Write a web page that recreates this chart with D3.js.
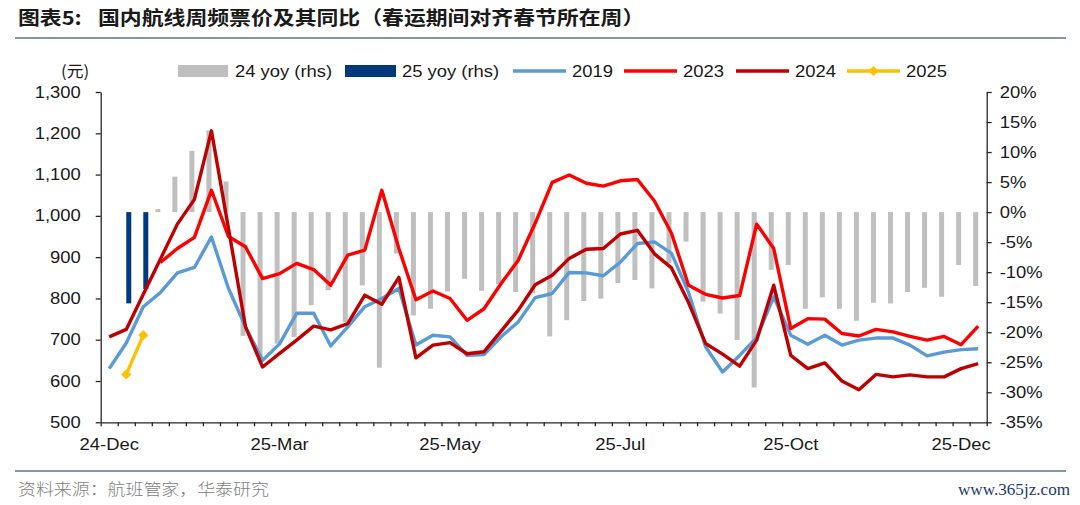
<!DOCTYPE html>
<html>
<head>
<meta charset="utf-8">
<script src="https://cdn.jsdelivr.net/npm/d3@7"></script>
<style>
  html, body { margin: 0; padding: 0; background: #fff; }
  svg { display: block; }
</style>
</head>
<body>
<svg id="chart" width="1080" height="505"></svg>
<script>
"use strict";

// ── data ──────────────────────────────────────────────────────────────────────
const weekIdx = d3.range(52);
const xTickLabels = [[0, "24-Dec"], [10, "25-Mar"], [20, "25-May"], [30, "25-Jul"], [40, "25-Oct"], [50, "25-Dec"]];
const leftTicks  = [500, 600, 700, 800, 900, 1000, 1100, 1200, 1300];
const rightTicks = [-35, -30, -25, -20, -15, -10, -5, 0, 5, 10, 15, 20];

const fare2019 = [630, 692, 780, 814, 862, 875, 949, 824, 731, 650,
                  690, 764, 764, 685, 731, 780, 800, 824, 687, 711,
                  707, 662, 664, 707, 743, 802, 812, 863, 862, 855,
                  888, 933, 937, 909, 815, 683, 622, 662, 705, 804,
                  711, 689, 711, 687, 699, 704, 704, 687, 661, 670,
                  676, 678];
const fare2023 = [null, null, null, 887, 921, 948, 1062, 950, 925, 848,
                  860, 885, 870, 832, 905, 917, 1062, 921, 797, 818,
                  800, 747, 775, 836, 892, 982, 1081, 1099, 1079, 1072,
                  1085, 1088, 1036, 958, 832, 810, 801, 807, 980, 921,
                  727, 751, 750, 715, 709, 725, 719, 708, 699, 708,
                  688, 733];
const fare2024 = [707, 725, 810, 895, 980, 1040, 1206, 969, 731, 634,
                  667, 699, 733, 724, 739, 808, 786, 851, 656, 687,
                  693, 666, 671, 721, 771, 833, 856, 897, 919, 921,
                  956, 965, 908, 874, 790, 691, 665, 636, 699, 832,
                  662, 630, 644, 600, 579, 616, 610, 615, 610, 610,
                  630, 642];
const fare2025 = [null, 616, 711];

const yoy24 = [null, null, null, 0.5, 5.9, 10.2, 13.6, 5.1, -20.6, -24.7,
               -21.9, -20.8, -15.5, -13, -18.3, -12.2, -25.9, -6.9, -17.2, -16.1,
               -13.2, -11.1, -13.1, -12, -13.3, -13.5, -20.7, -18, -14.8, -14.4,
               -11.8, -11.3, -12.7, -8.5, -4.9, -14.9, -16.9, -21.3, -29.2, -9.6,
               -8.8, -16.1, -14.2, -16.1, -18.1, -15.1, -15.2, -13.3, -12.6, -14.1,
               -8.8, -12.3];
const yoy25 = [null, -15.2, -12.8];

// ── layout ────────────────────────────────────────────────────────────────────
const plot = { left: 100.7, right: 986.7, top: 92, bottom: 422.3 };
const FONT = "'Liberation Sans', Arial, sans-serif";
const CJK  = "'Noto Sans CJK SC', 'Noto Sans', sans-serif";
const AXIS = "#262626";
const STRETCH = 1.15;   // reference text is a bit wide

const C = {
  bar24: "#bfbfbf", bar25: "#003a7d",
  y2019: "#5b9bd5", y2023: "#ff0000", y2024: "#c00000", y2025: "#ffc000",
  rule: "#8497b0",
};

const svg = d3.select("#chart");

function stretch(sel, k) {
  sel.each(function () {
    const w = this.getComputedTextLength();
    this.setAttribute("textLength", w * k);
    this.setAttribute("lengthAdjust", "spacingAndGlyphs");
  });
}

// ── scales ────────────────────────────────────────────────────────────────────
const x = d3.scaleBand().domain(weekIdx).range([plot.left, plot.right]).padding(0);
const xEdge = d3.scaleLinear().domain([0, weekIdx.length]).range([plot.left, plot.right]);
const yL = d3.scaleLinear().domain([500, 1300]).range([plot.bottom, plot.top]);
const yR = d3.scaleLinear().domain([-35, 20]).range([plot.bottom, plot.top]);
const xc = i => x(i) + x.bandwidth() / 2;

// ── bars (rhs) ────────────────────────────────────────────────────────────────
const barW = 5;
svg.append("g").selectAll("rect")
  .data(yoy24.map((v, i) => ({ v, i })).filter(d => d.v != null))
  .enter().append("rect")
  .attr("x", d => xc(d.i) - barW)
  .attr("width", barW)
  .attr("y", d => yR(Math.max(0, d.v)))
  .attr("height", d => Math.abs(yR(d.v) - yR(0)))
  .attr("fill", C.bar24);

svg.append("g").selectAll("rect")
  .data(yoy25.map((v, i) => ({ v, i })).filter(d => d.v != null))
  .enter().append("rect")
  .attr("x", d => xc(d.i))
  .attr("width", barW)
  .attr("y", d => yR(Math.max(0, d.v)))
  .attr("height", d => Math.abs(yR(d.v) - yR(0)))
  .attr("fill", C.bar25);

// ── lines ─────────────────────────────────────────────────────────────────────
const line = d3.line()
  .defined(d => d != null)
  .x((d, i) => xc(i))
  .y(d => yL(d));

[[fare2019, C.y2019], [fare2023, C.y2023], [fare2024, C.y2024], [fare2025, C.y2025]]
  .forEach(([data, color]) => {
    svg.append("path").datum(data)
      .attr("fill", "none")
      .attr("stroke", color)
      .attr("stroke-width", 3.4)
      .attr("stroke-linejoin", "round")
      .attr("d", line);
  });

const diamond = d3.symbol().type(d3.symbolSquare).size(52);
svg.append("g").selectAll("path")
  .data(fare2025.map((v, i) => ({ v, i })).filter(d => d.v != null))
  .enter().append("path")
  .attr("d", diamond)
  .attr("transform", d => `translate(${xc(d.i)},${yL(d.v)}) rotate(45)`)
  .attr("fill", C.y2025);

// ── axes ──────────────────────────────────────────────────────────────────────
function styleAxis(g) {
  g.select(".domain").attr("stroke", AXIS).attr("stroke-width", 1.3);
  g.selectAll(".tick line").attr("stroke", AXIS).attr("stroke-width", 1.3);
  g.selectAll("text").attr("fill", "#1a1a1a").attr("font-family", FONT).attr("font-size", 16);
}

svg.append("g").attr("transform", `translate(${plot.left},0)`)
  .call(d3.axisLeft(yL).tickValues(leftTicks).tickSize(5).tickPadding(15)
    .tickFormat(d3.format(",")).tickSizeOuter(0))
  .call(styleAxis)
  .call(g => g.selectAll("text").call(stretch, STRETCH));

svg.append("g").attr("transform", `translate(${plot.right},0)`)
  .call(d3.axisRight(yR).tickValues(rightTicks).tickSize(5).tickPadding(8)
    .tickFormat(d => d + "%").tickSizeOuter(0))
  .call(styleAxis)
  .call(g => g.selectAll("text").call(stretch, STRETCH));

// category boundary ticks
svg.append("g").attr("transform", `translate(0,${plot.bottom})`)
  .call(d3.axisBottom(xEdge).tickValues(d3.range(weekIdx.length + 1)).tickSize(4)
    .tickFormat("").tickSizeOuter(0))
  .call(styleAxis);

// category labels
const labelMap = new Map(xTickLabels);
svg.append("g").attr("transform", `translate(0,${plot.bottom})`)
  .call(d3.axisBottom(x).tickValues(xTickLabels.map(d => d[0])).tickSize(0).tickPadding(16)
    .tickFormat(i => labelMap.get(i)))
  .call(g => g.select(".domain").remove())
  .call(styleAxis)
  .call(g => g.selectAll("text").call(stretch, STRETCH));

// ── legend ────────────────────────────────────────────────────────────────────
const legY = 71;
const legend = svg.append("g").attr("font-family", FONT).attr("font-size", 16).attr("fill", "#1a1a1a");

const legItems = [
  { kind: "bar",  color: C.bar24, x0: 178, x1: 228, label: "24 yoy (rhs)", tx: 235 },
  { kind: "bar",  color: C.bar25, x0: 345, x1: 396, label: "25 yoy (rhs)", tx: 402 },
  { kind: "line", color: C.y2019, x0: 513, x1: 566, label: "2019", tx: 572 },
  { kind: "line", color: C.y2023, x0: 624, x1: 677, label: "2023", tx: 683 },
  { kind: "line", color: C.y2024, x0: 736, x1: 789, label: "2024", tx: 795 },
  { kind: "mark", color: C.y2025, x0: 847, x1: 900, label: "2025", tx: 906 },
];

legItems.forEach(it => {
  if (it.kind === "bar") {
    legend.append("rect").attr("x", it.x0).attr("y", legY - 6)
      .attr("width", it.x1 - it.x0).attr("height", 12).attr("fill", it.color);
  } else {
    legend.append("line").attr("x1", it.x0).attr("x2", it.x1)
      .attr("y1", legY).attr("y2", legY)
      .attr("stroke", it.color).attr("stroke-width", 3.6);
    if (it.kind === "mark") {
      legend.append("path").attr("d", diamond)
        .attr("transform", `translate(${(it.x0 + it.x1) / 2},${legY}) rotate(45)`)
        .attr("fill", it.color);
    }
  }
  legend.append("text").attr("x", it.tx).attr("y", legY).attr("dy", "0.35em")
    .text(it.label).call(stretch, STRETCH);
});

// unit label
svg.append("text").attr("x", 61).attr("y", legY).attr("dy", "0.35em")
  .attr("font-family", CJK).attr("font-size", 16).attr("fill", "#1a1a1a")
  .text("(元)").call(stretch, 1.05);

// ── title, rules, footer ──────────────────────────────────────────────────────
svg.append("text").attr("x", 18).attr("y", 25)
  .attr("font-family", CJK).attr("font-size", 19).attr("font-weight", 700).attr("fill", "#1a1a1a")
  .text("图表5:").call(stretch, STRETCH);
svg.append("text").attr("x", 98).attr("y", 25)
  .attr("font-family", CJK).attr("font-size", 19).attr("font-weight", 700).attr("fill", "#1a1a1a")
  .text("国内航线周频票价及其同比（春运期间对齐春节所在周）").call(stretch, STRETCH);

svg.append("line").attr("x1", 15).attr("x2", 1066).attr("y1", 38).attr("y2", 38)
  .attr("stroke", C.rule).attr("stroke-width", 2);
svg.append("line").attr("x1", 15).attr("x2", 1066).attr("y1", 471).attr("y2", 471)
  .attr("stroke", C.rule).attr("stroke-width", 2);

svg.append("text").attr("x", 18).attr("y", 495)
  .attr("font-family", CJK).attr("font-size", 16).attr("font-weight", 300).attr("fill", "#7f7f7f")
  .text("资料来源：航班管家，华泰研究").call(stretch, 1.12);

svg.append("text").attr("x", 958).attr("y", 495)
  .attr("font-family", "'Liberation Serif', serif").attr("font-size", 17).attr("fill", "#1f3b6e")
  .attr("textLength", 112).attr("lengthAdjust", "spacingAndGlyphs")
  .text("www.365jz.com");
</script>
</body>
</html>
